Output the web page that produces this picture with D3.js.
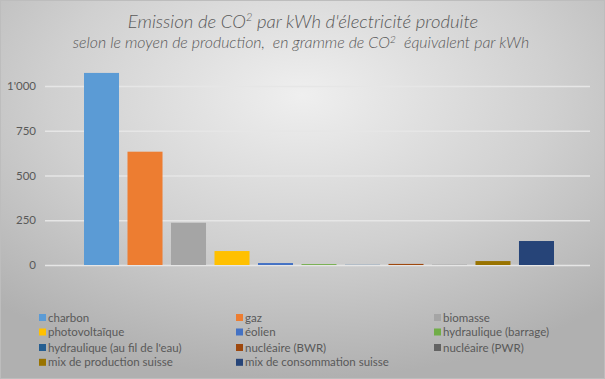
<!DOCTYPE html>
<html><head><meta charset="utf-8">
<script src="https://cdn.jsdelivr.net/npm/d3@7"></script>
<style>body{margin:0;background:#fff}svg{display:block}text{white-space:pre}</style>
</head><body>
<script>
const categories = ["charbon","gaz","biomasse","photovoltaïque","éolien","hydraulique (barrage)","hydraulique (au fil de l'eau)","nucléaire (BWR)","nucléaire (PWR)","mix de production suisse","mix de consommation suisse"];
const values = [1073, 633, 236, 78, 11, 5, 1, 6, 1, 22, 134];
const colors = ["#5B9BD5","#ED7D31","#A5A5A5","#FFC000","#4472C4","#70AD47","#255E91","#9E480E","#636363","#997300","#264478"];
const yTicks = [0, 250, 500, 750, 1000];
const legendOrder = [0,1,2,3,4,5,6,7,8,9,10];

const W = 605, H = 379;
const svg = d3.select("body").append("svg").attr("width", W).attr("height", H);
const defs = svg.append("defs");
const grad = defs.append("radialGradient").attr("id","bg").attr("cx","50%").attr("cy","25%").attr("r","75%")
  .attr("gradientUnits","objectBoundingBox");
grad.append("stop").attr("offset","0%").attr("stop-color","#efefef");
grad.append("stop").attr("offset","55%").attr("stop-color","#d0d0d0");
grad.append("stop").attr("offset","100%").attr("stop-color","#b0b0b0");
svg.append("rect").attr("x",0.5).attr("y",0.5).attr("width",W-1).attr("height",H-1)
  .attr("fill","url(#bg)").attr("stroke","#bdbdbd");

const font = "Lato, 'Open Sans', sans-serif";
const title = svg.append("text").attr("x", 303).attr("y", 28.3).attr("text-anchor","middle")
  .attr("font-family", font).attr("font-style","italic").attr("font-weight",300).attr("font-size", 18.5).attr("fill","#595959");
title.append("tspan").text("Emission de CO");
title.append("tspan").text("2").attr("font-size", 11).attr("dy", -7);
title.append("tspan").text(" par kWh d'électricité produite").attr("dy", 7);
const sub = svg.append("text").attr("x", 301).attr("y", 48.3).attr("text-anchor","middle")
  .attr("font-family", font).attr("font-style","italic").attr("font-weight",300).attr("font-size", 15.9).attr("fill","#595959");
sub.append("tspan").text("selon le moyen de production,  en gramme de CO");
sub.append("tspan").text("2").attr("font-size", 10.5).attr("dy", -5.5);
sub.append("tspan").text("  équivalent par kWh").attr("dy", 5.5);

const y = d3.scaleLinear().domain([0, 1000]).range([265, 86]);
const x = d3.scaleBand().domain(categories).range([84, 554]).paddingInner(0.195).paddingOuter(0);

const fmt = v => v >= 1000 ? d3.format(",")(v).replace(",", "'") : String(v);
const yAxis = d3.axisLeft(y).tickValues(yTicks).tickSize(-(590 - 45)).tickFormat(fmt).tickPadding(9);
const ga = svg.append("g").attr("transform","translate(45,0)").call(yAxis);
ga.select(".domain").remove();
ga.selectAll(".tick line").attr("stroke","#e6e6e6").attr("stroke-width",1.3);
ga.selectAll(".tick text").attr("font-family", font).attr("font-size", 11.5).attr("fill","#595959");

svg.append("g").selectAll("rect").data(values).join("rect")
  .attr("x", (d,i) => x(categories[i]))
  .attr("width", x.bandwidth())
  .attr("y", d => y(d))
  .attr("height", d => y(0) - y(d))
  .attr("fill", (d,i) => colors[i]);

const colX = [39, 236, 434];
const rowY = [317.5, 332, 347.5, 362.3];
const lg = svg.append("g");
legendOrder.forEach((ci, k) => {
  const c = k % 3, r = Math.floor(k / 3);
  const g = lg.append("g").attr("transform", `translate(${colX[c]},${rowY[r]})`);
  g.append("rect").attr("x",0).attr("y",-3.5).attr("width",7).attr("height",7).attr("fill",colors[ci]);
  g.append("text").attr("x", 9).attr("y", 4).attr("font-family", font).attr("font-size", 11.5)
    .attr("fill","#595959").text(categories[ci]);
});
</script>
</body></html>
